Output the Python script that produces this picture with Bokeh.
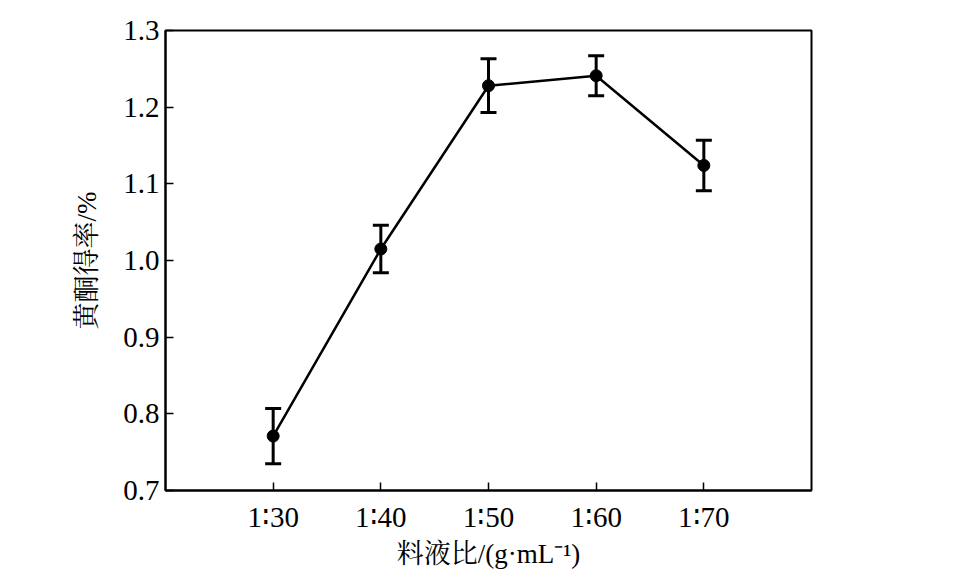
from bokeh.plotting import figure
from bokeh.models import ColumnDataSource, Whisker, FixedTicker, NumeralTickFormatter, Range1d
from bokeh.embed import file_html
from bokeh.resources import INLINE

categories = ["1∶30", "1∶40", "1∶50", "1∶60", "1∶70"]
yield_mean = [0.771, 1.015, 1.228, 1.241, 1.124]
yield_err = [0.036, 0.031, 0.035, 0.026, 0.033]
y_ticks = [0.7, 0.8, 0.9, 1.0, 1.1, 1.2, 1.3]

xs = list(range(1, len(categories) + 1))
src = ColumnDataSource(dict(
    x=xs, y=yield_mean,
    lower=[m - e for m, e in zip(yield_mean, yield_err)],
    upper=[m + e for m, e in zip(yield_mean, yield_err)],
))

SERIF = "'Liberation Serif', 'Noto Serif CJK SC', 'Noto Sans CJK SC', serif"

p = figure(width=948, height=568, output_backend="svg", toolbar_location=None,
           x_range=Range1d(0, len(categories) + 1), y_range=Range1d(0.7, 1.3),
           frame_width=646, frame_height=460,
           min_border_left=165, min_border_top=30, min_border_right=137, min_border_bottom=78)
p.grid.visible = False
p.outline_line_color = "black"
p.outline_line_width = 2
p.background_fill_color = "white"
p.border_fill_color = "white"

p.line("x", "y", source=src, line_color="black", line_width=2.5)
w = Whisker(base="x", lower="lower", upper="upper", source=src,
            line_color="black", line_width=3)
w.upper_head.size = 16
w.lower_head.size = 16
w.upper_head.line_width = 3
w.lower_head.line_width = 3
w.upper_head.line_color = "black"
w.lower_head.line_color = "black"
p.add_layout(w)
p.scatter("x", "y", source=src, size=12, fill_color="black", line_color="black")

p.xaxis.ticker = FixedTicker(ticks=xs)
p.xaxis.major_label_overrides = {x: c for x, c in zip(xs, categories)}
p.yaxis.ticker = FixedTicker(ticks=y_ticks)
p.yaxis.formatter = NumeralTickFormatter(format="0.0")

for ax in (p.xaxis[0], p.yaxis[0]):
    ax.axis_line_width = 2
    ax.axis_line_color = "black"
    ax.major_tick_in = 8
    ax.major_tick_out = 0
    ax.major_tick_line_width = 1.5
    ax.major_tick_line_color = "black"
    ax.minor_tick_line_color = None
    ax.major_label_text_font = "Liberation Serif"
    ax.major_label_text_font_size = "29px"
    ax.major_label_text_color = "black"
    ax.axis_label_text_font = SERIF
    ax.axis_label_text_font_size = "27px"
    ax.axis_label_text_font_style = "normal"
    ax.axis_label_text_color = "black"

p.xaxis.axis_label = "料液比/(g·mL⁻¹)"
p.yaxis.axis_label = "黄酮得率/%"
p.xaxis.major_label_standoff = 10
p.xaxis.axis_label_standoff = 3
p.yaxis.major_label_standoff = 6
p.yaxis.axis_label_standoff = 18

open("out.html", "w").write(file_html(p, INLINE))
